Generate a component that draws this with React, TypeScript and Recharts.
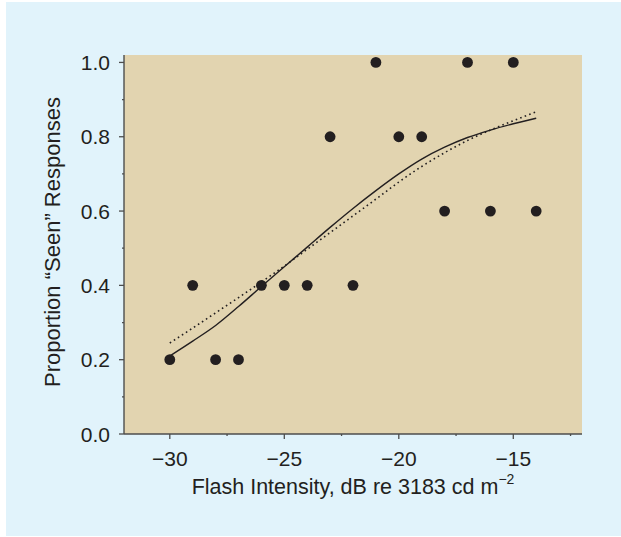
import React from "react";
import {
  ComposedChart,
  Scatter,
  Line,
  XAxis,
  YAxis,
  ReferenceArea,
} from "recharts";

const intensities = [-30, -29, -28, -27, -26, -25, -24, -23, -22, -21, -20, -19, -18, -17, -16, -15, -14];
const proportionSeen = [0.2, 0.4, 0.2, 0.2, 0.4, 0.4, 0.4, 0.8, 0.4, 1.0, 0.8, 0.8, 0.6, 1.0, 0.6, 1.0, 0.6];
const solidFit = [0.21, 0.25, 0.292, 0.343, 0.397, 0.45, 0.503, 0.556, 0.607, 0.655, 0.7, 0.74, 0.772, 0.798, 0.818, 0.835, 0.85];
const dottedFit = [0.245, 0.285, 0.326, 0.367, 0.409, 0.452, 0.497, 0.542, 0.587, 0.632, 0.678, 0.72, 0.757, 0.79, 0.818, 0.843, 0.867];

const xTicks = [-30, -27.5, -25, -22.5, -20, -17.5, -15, -12.5];
const yTicks = [0, 0.1, 0.2, 0.3, 0.4, 0.5, 0.6, 0.7, 0.8, 0.9, 1.0];
const xMajor = [-30, -25, -20, -15];
const yMajor = [0, 0.2, 0.4, 0.6, 0.8, 1.0];

const points = intensities.map((x, i) => ({ x, y: proportionSeen[i] }));
const solidData = intensities.map((x, i) => ({ x, y: solidFit[i] }));
const dottedData = intensities.map((x, i) => ({ x, y: dottedFit[i] }));

const INK = "#231f20";
const AXIS = "#4d4d4d";
const FONT = "'Liberation Sans', Arial, Helvetica, sans-serif";

const fmtX = (v: number) => (v < 0 ? `\u2212${Math.abs(v)}` : `${v}`);

function BottomTick({ x, y, payload }: any) {
  const major = xMajor.includes(payload.value);
  return (
    <g>
      <line x1={x} y1={y} x2={x} y2={y + (major ? 5 : 2)} stroke={AXIS} strokeWidth={1.3} />
      {major && (
        <text x={x} y={y + 32} textAnchor="middle" fontSize={21} fill={INK} fontFamily={FONT}>
          {fmtX(payload.value)}
        </text>
      )}
    </g>
  );
}

function TopTick({ x, y, payload }: any) {
  const major = xMajor.includes(payload.value);
  return <line x1={x} y1={y} x2={x} y2={y - (major ? 5 : 2)} stroke={AXIS} strokeWidth={1.3} />;
}

function LeftTick({ x, y, payload }: any) {
  const major = yMajor.some((m) => Math.abs(m - payload.value) < 1e-6);
  return (
    <g>
      <line x1={x - (major ? 5 : 2)} y1={y} x2={x} y2={y} stroke={AXIS} strokeWidth={1.3} />
      {major && (
        <text x={x - 14} y={y + 7.5} textAnchor="end" fontSize={21} fill={INK} fontFamily={FONT}>
          {payload.value.toFixed(1)}
        </text>
      )}
    </g>
  );
}

function RightTick({ x, y, payload }: any) {
  const major = yMajor.some((m) => Math.abs(m - payload.value) < 1e-6);
  return <line x1={x} y1={y} x2={x + (major ? 6 : 2)} y2={y} stroke={AXIS} strokeWidth={1.3} />;
}

const Dot = (p: any) => <circle cx={p.cx} cy={p.cy} r={5.4} fill={INK} />;

export default function App() {
  return (
    <div style={{ position: "absolute", left: 0, top: 0, width: 621, height: 537, background: "#fff" }}>
      <div style={{ position: "absolute", left: 6, top: 2, width: 615, height: 534, background: "#e1f3fb" }} />
      <div style={{ position: "absolute", left: 0, top: 0 }}>
        <ComposedChart width={621} height={537} margin={{ top: 55, right: 39, bottom: 0, left: 0 }}>
          <XAxis
            xAxisId="b"
            type="number"
            dataKey="x"
            domain={[-32, -12]}
            allowDataOverflow
            ticks={xTicks}
            interval={0}
            height={103}
            tickSize={0}
            tickMargin={0}
            tickLine={false}
            axisLine={{ stroke: AXIS, strokeWidth: 1.4 }}
            tick={<BottomTick />}
          />
          <XAxis
            xAxisId="t"
            orientation="top"
            type="number"
            dataKey="x"
            domain={[-32, -12]}
            allowDataOverflow
            ticks={xTicks}
            interval={0}
            height={0}
            tickSize={0}
            tickMargin={0}
            tickLine={false}
            axisLine={{ stroke: AXIS, strokeWidth: 1.4 }}
            tick={<TopTick />}
          />
          <YAxis
            yAxisId="l"
            type="number"
            dataKey="y"
            domain={[0, 1.02]}
            allowDataOverflow
            ticks={yTicks}
            interval={0}
            width={124}
            tickSize={0}
            tickMargin={0}
            tickLine={false}
            axisLine={{ stroke: AXIS, strokeWidth: 1.4 }}
            tick={<LeftTick />}
          />
          <YAxis
            yAxisId="r"
            orientation="right"
            type="number"
            dataKey="y"
            domain={[0, 1.02]}
            allowDataOverflow
            ticks={yTicks}
            interval={0}
            width={0}
            tickSize={0}
            tickMargin={0}
            tickLine={false}
            axisLine={{ stroke: AXIS, strokeWidth: 1.4 }}
            tick={<RightTick />}
          />
          <ReferenceArea
            xAxisId="b"
            yAxisId="l"
            x1={-32}
            x2={-12}
            y1={0}
            y2={1.02}
            fill="#e2d4b0"
            fillOpacity={1}
            stroke="none"
            ifOverflow="hidden"
          />
          <Line
            xAxisId="t"
            yAxisId="r"
            data={solidData}
            dataKey="y"
            type="monotone"
            stroke={INK}
            strokeWidth={1.4}
            dot={false}
            isAnimationActive={false}
          />
          <Line
            xAxisId="b"
            yAxisId="l"
            data={dottedData}
            dataKey="y"
            type="monotone"
            stroke={INK}
            strokeWidth={1.6}
            strokeDasharray="1.6 3.2"
            dot={false}
            isAnimationActive={false}
          />
          <Scatter
            xAxisId="b"
            yAxisId="l"
            data={points}
            dataKey="y"
            shape={Dot}
            isAnimationActive={false}
          />
        </ComposedChart>
      </div>
      <svg width={621} height={537} style={{ position: "absolute", left: 0, top: 0, pointerEvents: "none" }}>
        <text
          x={353}
          y={494}
          textAnchor="middle"
          fontSize={21.5}
          fill={INK}
          fontFamily={FONT}
        >
          Flash Intensity, dB re 3183 cd m
          <tspan fontSize={14} dy={-10}>{"\u22122"}</tspan>
        </text>
        <text
          transform="translate(60,242) rotate(-90)"
          textAnchor="middle"
          fontSize={22}
          fill={INK}
          fontFamily={FONT}
        >
          Proportion {"\u201cSeen\u201d"} Responses
        </text>
      </svg>
    </div>
  );
}
